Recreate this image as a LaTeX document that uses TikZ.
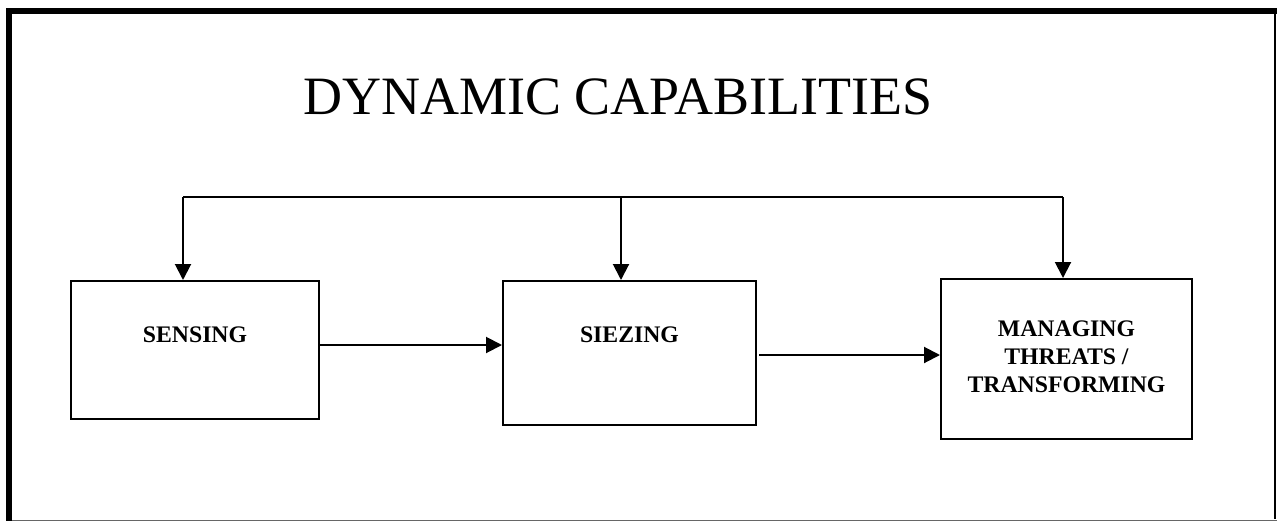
\documentclass[tikz,border=0pt]{standalone}
\usepackage{fontspec}
\setmainfont{Liberation Serif}
\usetikzlibrary{arrows.meta}

\tikzset{
  stagebox/.style={draw=black, line width=1.5pt, inner sep=0pt},
  stagelabel/.style={font=\fontsize{17.8}{21}\selectfont\bfseries, inner sep=0pt, anchor=base, align=center},
  flow/.style={line width=1.5pt, -{Triangle[length=12pt,width=12pt]}},
  bus/.style={line width=1.5pt}
}

\begin{document}
\begin{tikzpicture}[x=0.75pt, y=-0.75pt]
  \useasboundingbox (0,0) rectangle (1277,521);

  % frame: heavy top and left edges, light right and bottom edges
  \draw[line width=4.5pt] (6,11) -- (1277,11);
  \draw[line width=4.5pt] (9,8) -- (9,521);
  \draw[line width=1.5pt] (1275,14) -- (1275,519);
  \draw[line width=0.75pt, black!60] (12,520.5) -- (1277,520.5);

  % title
  \node[font=\fontsize{40.5}{48}\selectfont, inner sep=0pt, anchor=base] (title) at (618,114) {DYNAMIC CAPABILITIES};

  % the three stages
  \node[stagebox, minimum width=186pt, minimum height=103.5pt] (sense) at (195,350) {};
  \node[stagebox, minimum width=189.75pt, minimum height=108pt] (seize) at (629.5,353) {};
  \node[stagebox, minimum width=188.25pt, minimum height=120pt] (manage) at (1066.5,359) {};

  \node[stagelabel] (senseT) at (195,342) {SENSING};
  \node[stagelabel] (seizeT) at (629.5,342) {SIEZING};
  \node[stagelabel, anchor=north] (manageT) at (1066.5,320.5) {MANAGING\\THREATS /\\TRANSFORMING};

  % common feed line above the stages
  \coordinate (busL) at (183,197);
  \coordinate (busM) at (621,197);
  \coordinate (busR) at (1063,197);
  \draw[bus] (busL) -- (busR);
  \draw[flow] (busL) -- (busL |- sense.north);
  \draw[flow] (busM) -- (busM |- seize.north);
  \draw[flow] (busR) -- (busR |- manage.north);

  % stage to stage
  \coordinate (h1) at (410,345);
  \coordinate (h2) at (850,355);
  \draw[flow] (sense.east |- h1) -- (seize.west |- h1);
  \draw[flow] ([xshift=1.5pt]seize.east |- h2) -- (manage.west |- h2);
\end{tikzpicture}
\end{document}
